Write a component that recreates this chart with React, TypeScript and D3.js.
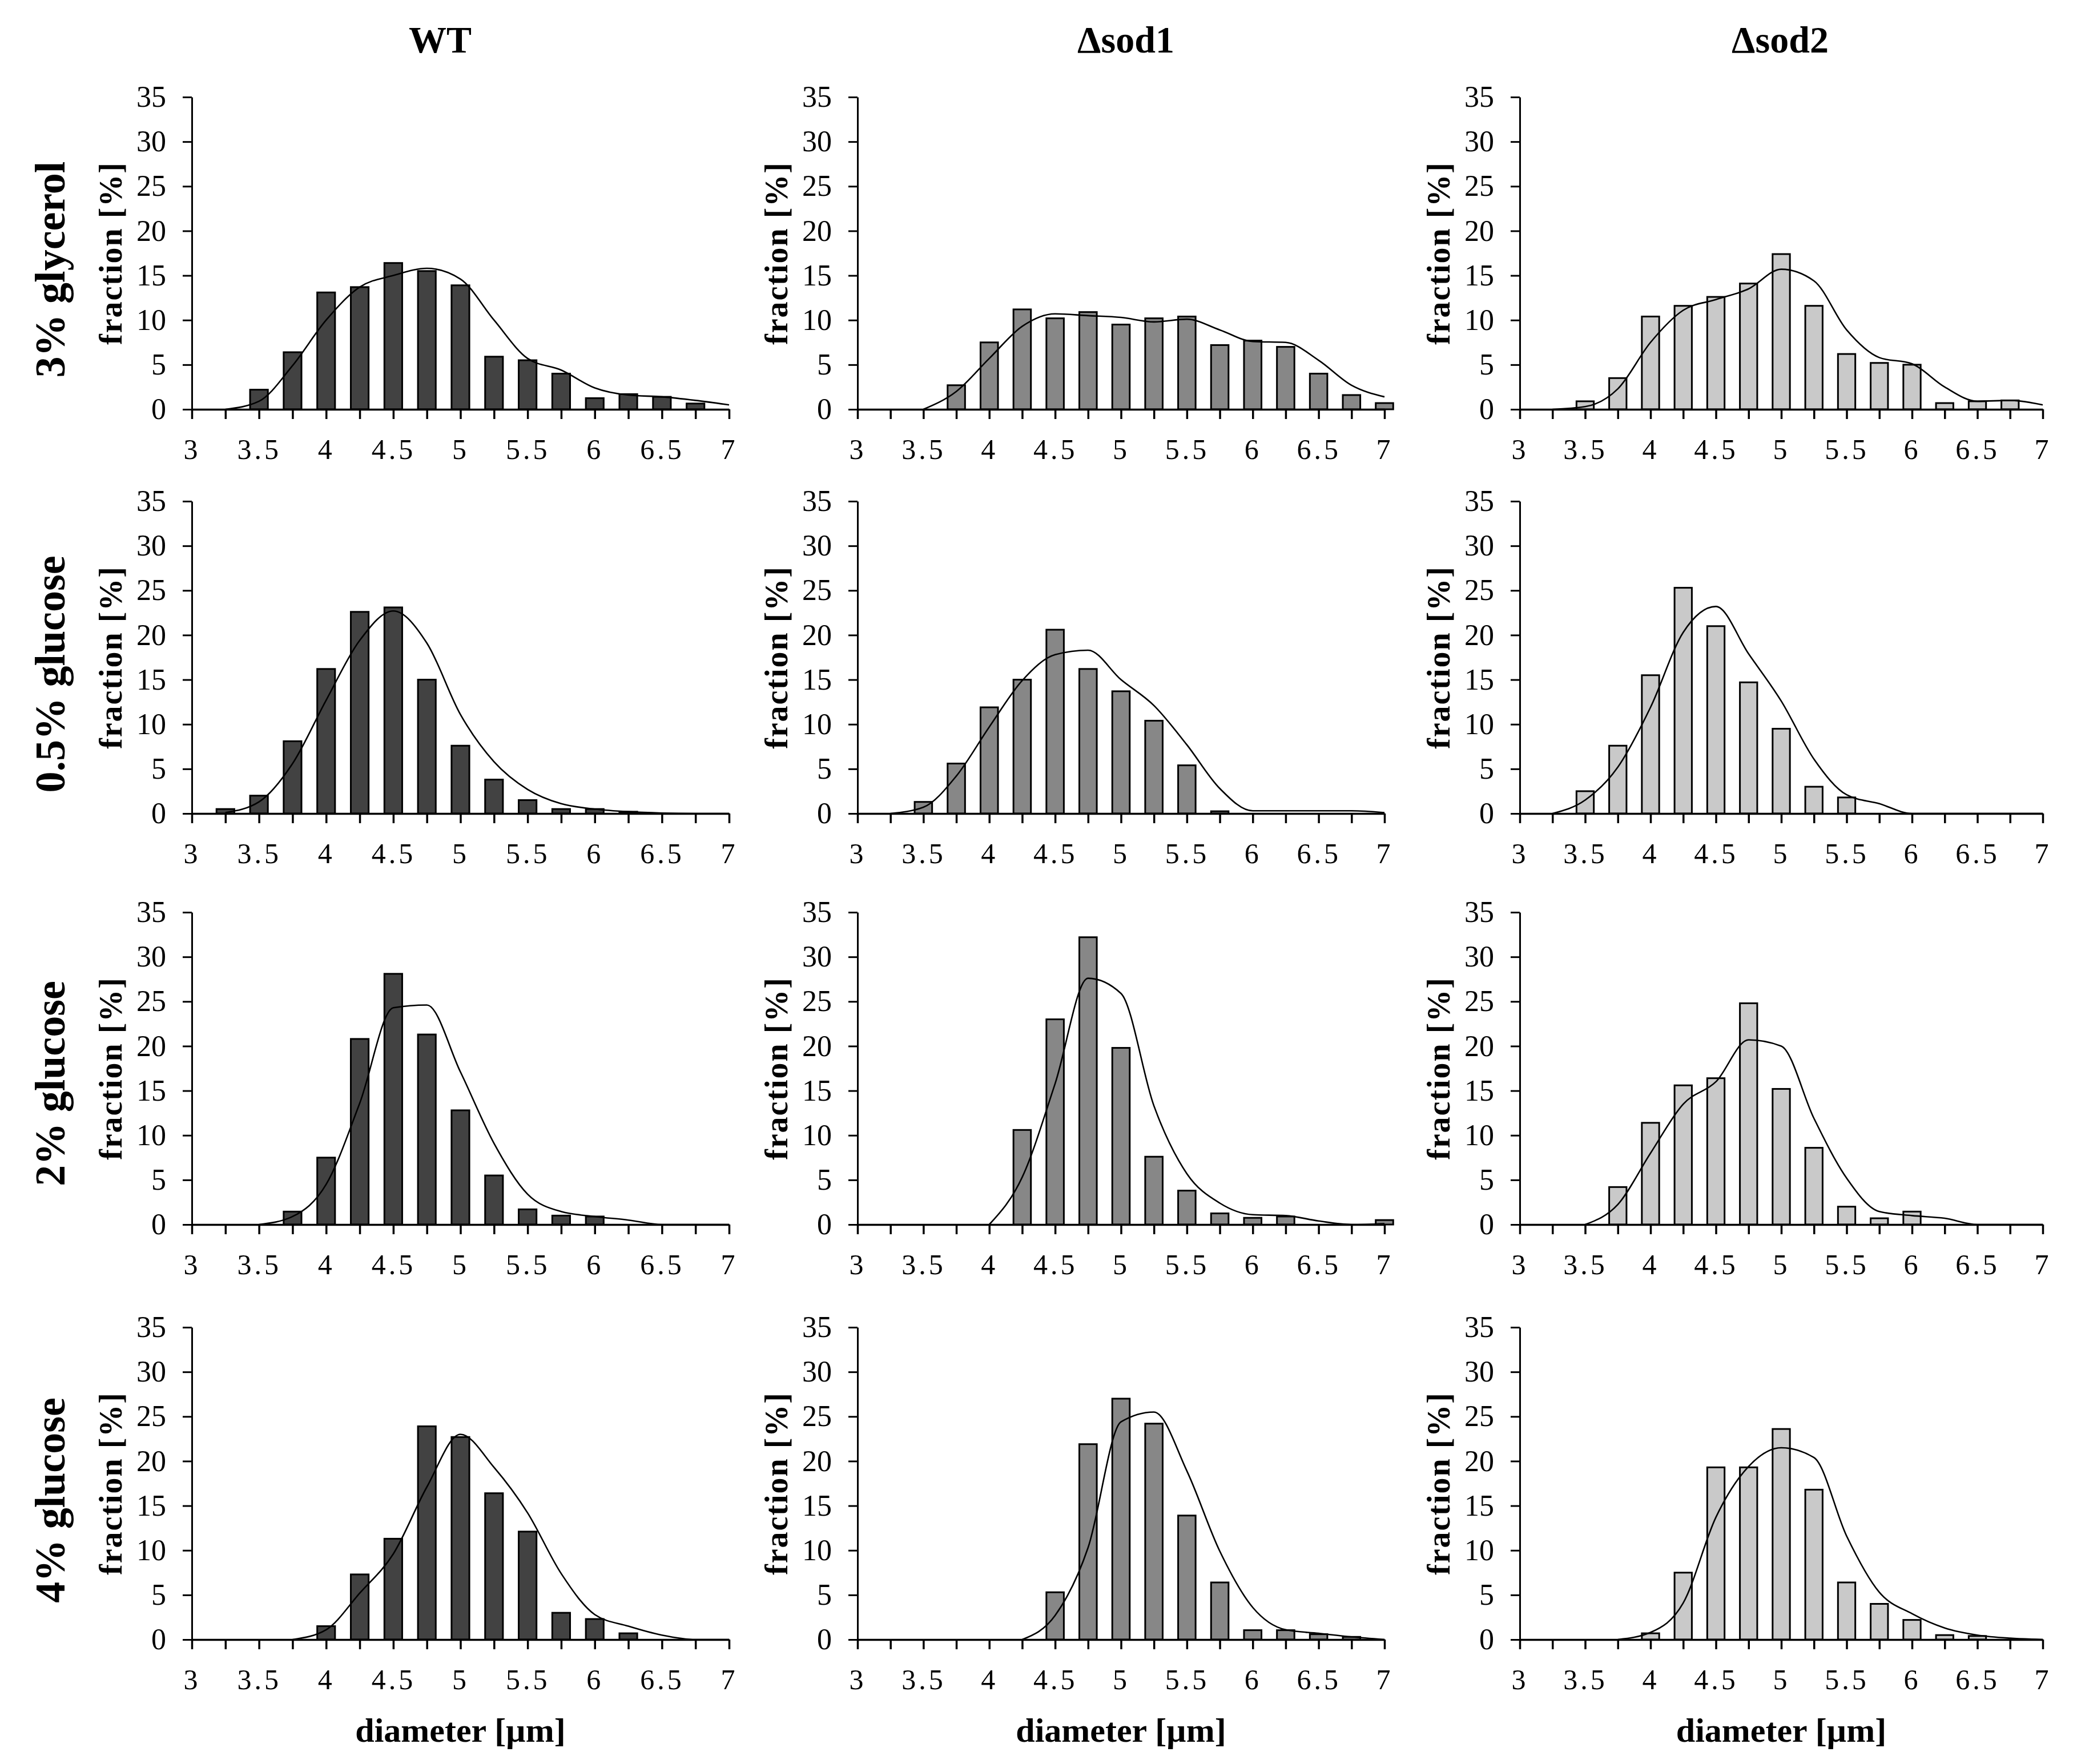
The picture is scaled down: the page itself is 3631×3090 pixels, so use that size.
import React, { useEffect, useRef } from 'react';
import * as d3 from 'd3';

// diameter classes [µm], one bar + one fit point per class
const diameters = [3, 3.25, 3.5, 3.75, 4, 4.25, 4.5, 4.75, 5, 5.25, 5.5, 5.75, 6, 6.25, 6.5, 6.75, 7];
const xLabels = ['3', '3.5', '4', '4.5', '5', '5.5', '6', '6.5', '7'];
const yTicks = [0, 5, 10, 15, 20, 25, 30, 35];

const strains = ['WT', 'Δsod1', 'Δsod2'];
const media = ['3% glycerol', '0.5% glucose', '2% glucose', '4% glucose'];

// fraction [%] per class
const wtGlycerolBars = [0, 0, 2.2, 6.4, 13.1, 13.7, 16.4, 15.5, 13.9, 5.9, 5.5, 4.0, 1.25, 1.7, 1.4, 0.65, 0];
const wtGlycerolFit = [null, 0, 0.9, 4.9, 10, 13.7, 15, 15.8, 14.6, 10, 5.7, 4.4, 2.4, 1.6, 1.4, 1.0, 0.5];
const sod1GlycerolBars = [0, 0, 0, 2.7, 7.5, 11.2, 10.2, 10.9, 9.5, 10.2, 10.4, 7.2, 7.7, 7.0, 4.0, 1.6, 0.7];
const sod1GlycerolFit = [null, null, 0, 2.0, 5.7, 9.3, 10.7, 10.5, 10.3, 9.8, 10.1, 8.9, 7.6, 7.5, 5.5, 2.7, 1.4];
const sod2GlycerolBars = [0, 0, 0.9, 3.5, 10.4, 11.6, 12.6, 14.1, 17.4, 11.6, 6.2, 5.2, 5.0, 0.7, 0.9, 1.0, 0];
const sod2GlycerolFit = [null, 0, 0.3, 2.3, 7.5, 11.1, 12.3, 13.5, 15.7, 14.4, 8.9, 5.8, 5.1, 2.5, 0.9, 1.0, 0.5];

const wtGlc05Bars = [0, 0.5, 2.0, 8.1, 16.2, 22.6, 23.1, 15.0, 7.6, 3.8, 1.5, 0.5, 0.5, 0.2, 0, 0, 0];
const wtGlc05Fit = [null, 0.1, 1.3, 5.6, 12.7, 19.4, 22.7, 19.1, 11.1, 5.8, 2.7, 1.1, 0.5, 0.2, 0.05, 0, 0];
const sod1Glc05Bars = [0, 0, 1.3, 5.6, 11.9, 15.0, 20.6, 16.2, 13.7, 10.4, 5.4, 0.25, 0, 0, 0, 0, 0];
const sod1Glc05Fit = [null, 0, 0.7, 4.2, 9.7, 14.9, 17.8, 18.3, 15.0, 12.1, 7.7, 2.8, 0.3, 0.3, 0.3, 0.3, 0.1];
const sod2Glc05Bars = [0, 0, 2.5, 7.6, 15.5, 25.3, 21.0, 14.7, 9.5, 3.0, 1.8, 0, 0, 0, 0, 0, 0];
const sod2Glc05Fit = [null, 0, 1.5, 5.2, 11.9, 20.3, 23.2, 17.9, 12.6, 6.1, 2.1, 1.1, 0, 0, 0, 0, 0];

const wtGlc2Bars = [0, 0, 0, 1.45, 7.5, 20.8, 28.1, 21.3, 12.8, 5.5, 1.7, 1.0, 0.9, 0, 0, 0, 0];
const wtGlc2Fit = [null, null, 0, 0.9, 4.5, 13.6, 24.3, 24.6, 17.1, 9.1, 3.4, 1.45, 0.9, 0.5, 0, 0, 0];
const sod1Glc2Bars = [0, 0, 0, 0, 0, 10.6, 23.0, 32.2, 19.8, 7.6, 3.8, 1.25, 0.75, 0.9, 0, 0, 0.5];
const sod1Glc2Fit = [null, null, null, null, 0, 5.3, 15.8, 27.6, 25.9, 13.3, 5.7, 2.4, 1.1, 1.0, 0.4, 0, 0.1];
const sod2Glc2Bars = [0, 0, 0, 4.2, 11.4, 15.6, 16.4, 24.8, 15.2, 8.6, 2.0, 0.7, 1.45, 0, 0, 0, 0];
const sod2Glc2Fit = [null, null, 0, 2.25, 8.0, 13.5, 16.0, 20.7, 20.0, 11.9, 5.2, 1.45, 1.0, 0.7, 0, 0, 0];

const wtGlc4Bars = [0, 0, 0, 0, 1.5, 7.3, 11.3, 23.9, 22.7, 16.4, 12.1, 3.0, 2.3, 0.7, 0, 0, 0];
const wtGlc4Fit = [null, null, null, 0, 1.1, 5.2, 9.6, 17.1, 23.0, 19.3, 14.2, 7.4, 2.8, 1.5, 0.5, 0, 0];
const sod1Glc4Bars = [0, 0, 0, 0, 0, 0, 5.3, 21.9, 27.0, 24.2, 13.9, 6.4, 1.05, 1.05, 0.6, 0.3, 0];
const sod1Glc4Fit = [null, null, null, null, null, 0, 2.7, 10.3, 24.4, 25.5, 18.9, 9.9, 3.6, 1.1, 0.7, 0.3, 0];
const sod2Glc4Bars = [0, 0, 0, 0, 0.7, 7.5, 19.3, 19.3, 23.6, 16.8, 6.4, 4.0, 2.2, 0.5, 0.4, 0, 0];
const sod2Glc4Fit = [null, null, null, 0, 0.8, 4.1, 13.7, 19.4, 21.5, 20.4, 11.6, 5.3, 2.9, 1.3, 0.5, 0.15, 0];

const barGrid = [
  [wtGlycerolBars, sod1GlycerolBars, sod2GlycerolBars],
  [wtGlc05Bars, sod1Glc05Bars, sod2Glc05Bars],
  [wtGlc2Bars, sod1Glc2Bars, sod2Glc2Bars],
  [wtGlc4Bars, sod1Glc4Bars, sod2Glc4Bars],
];
const fitGrid = [
  [wtGlycerolFit, sod1GlycerolFit, sod2GlycerolFit],
  [wtGlc05Fit, sod1Glc05Fit, sod2Glc05Fit],
  [wtGlc2Fit, sod1Glc2Fit, sod2Glc2Fit],
  [wtGlc4Fit, sod1Glc4Fit, sod2Glc4Fit],
];

const FONT = "'Liberation Serif', 'Times New Roman', serif";
const fills = ['#424242', '#878787', '#c9c9c9'];

// layout (px)
const colX0 = [336, 1502, 2662];
const colX1 = [1277, 2425, 3578];
const rowBase = [717, 1425, 2145, 2872];
const plotH = 547;
const titleX = [771, 1972, 3118];
const rowLabelY = [472, 1181, 1898, 2628];

function App() {
  const ref = useRef<SVGSVGElement>(null);

  useEffect(() => {
    const svg = d3.select(ref.current);
    svg.selectAll('*').remove();

    strains.forEach((s, c) => {
      svg
        .append('text')
        .attr('x', titleX[c])
        .attr('y', 92)
        .attr('text-anchor', 'middle')
        .attr('font-family', FONT)
        .attr('font-weight', 'bold')
        .attr('font-size', 66)
        .text(s);
    });

    media.forEach((m, r) => {
      svg
        .append('text')
        .attr('transform', `translate(88,${rowLabelY[r]}) rotate(-90)`)
        .attr('text-anchor', 'middle')
        .attr('dominant-baseline', 'central')
        .attr('font-family', FONT)
        .attr('font-weight', 'bold')
        .attr('font-size', 74)
        .text(m);
    });

    media.forEach((_, r) => {
      strains.forEach((__, c) => {
        const x = d3.scaleLinear().domain([3, 7]).range([colX0[c], colX1[c]]);
        const y = d3.scaleLinear().domain([0, 35]).range([rowBase[r], rowBase[r] - plotH]);
        const g = svg.append('g');
        const step = x(3.25) - x(3);
        const bw = step * 0.53;

        const bars = barGrid[r][c];
        g.selectAll('rect')
          .data(bars.map((v, i) => ({ d: diameters[i], v })).filter((o) => o.v > 0))
          .enter()
          .append('rect')
          .attr('x', (o) => x(o.d) - bw / 2)
          .attr('y', (o) => y(o.v))
          .attr('width', bw)
          .attr('height', (o) => y(0) - y(o.v))
          .attr('fill', fills[c])
          .attr('stroke', '#000')
          .attr('stroke-width', 3);

        const line = d3
          .line<number | null>()
          .defined((v) => v != null)
          .x((_v, i) => x(diameters[i]))
          .y((v) => y(v as number))
          .curve(d3.curveMonotoneX);

        g.append('path')
          .datum(fitGrid[r][c])
          .attr('d', line as any)
          .attr('fill', 'none')
          .attr('stroke', '#000')
          .attr('stroke-width', 2.6);

        const xAxis = g
          .append('g')
          .attr('transform', `translate(0,${rowBase[r]})`)
          .call(
            d3
              .axisBottom(x)
              .tickValues(diameters)
              .tickSize(17)
              .tickSizeOuter(0)
              .tickPadding(34)
              .tickFormat((d: any) => {
                const k = xLabels.indexOf(String(d));
                return k >= 0 ? xLabels[k] : '';
              })
          );
        xAxis.selectAll('path,line').attr('stroke', '#000').attr('stroke-width', 3.5);
        xAxis
          .selectAll('text')
          .attr('font-family', FONT)
          .attr('font-size', 50)
          .attr('letter-spacing', 5)
          .attr('fill', '#000');

        const yAxis = g
          .append('g')
          .attr('transform', `translate(${colX0[c]},0)`)
          .call(d3.axisLeft(y).tickValues(yTicks).tickSize(16).tickSizeOuter(0).tickPadding(29));
        yAxis.selectAll('path,line').attr('stroke', '#000').attr('stroke-width', 3);
        yAxis.selectAll('text').attr('font-family', FONT).attr('font-size', 52).attr('fill', '#000');

        g.append('text')
          .attr('transform', `translate(${colX0[c] - 142},${rowBase[r] - plotH / 2}) rotate(-90)`)
          .attr('text-anchor', 'middle')
          .attr('dominant-baseline', 'central')
          .attr('font-family', FONT)
          .attr('font-weight', 'bold')
          .attr('font-size', 56)
          .attr('letter-spacing', 2)
          .text('fraction [%]');

        if (r === media.length - 1) {
          g.append('text')
            .attr('x', (colX0[c] + colX1[c]) / 2)
            .attr('y', 3051)
            .attr('text-anchor', 'middle')
            .attr('font-family', FONT)
            .attr('font-weight', 'bold')
            .attr('font-size', 60)
            .text('diameter [µm]');
        }
      });
    });
  }, []);

  return (
    <svg
      ref={ref}
      width={3631}
      height={3090}
      style={{ position: 'absolute', left: 0, top: 0, background: '#fff' }}
    ></svg>
  );
}

export default App;
